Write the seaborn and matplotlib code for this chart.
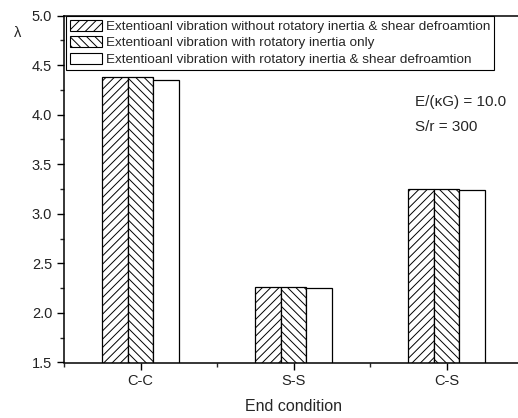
import matplotlib
matplotlib.use("Agg")
import matplotlib.pyplot as plt
import seaborn as sns
import pandas as pd
from matplotlib.patches import Patch
from matplotlib.ticker import MultipleLocator, FixedLocator

conditions = ["C-C", "S-S", "C-S"]
series_names = [
    "Extentioanl vibration without rotatory inertia & shear defroamtion",
    "Extentioanl vibration with rotatory inertia only",
    "Extentioanl vibration with rotatory inertia & shear defroamtion",
]
vals_without = [4.38, 2.26, 3.25]
vals_rot_only = [4.38, 2.26, 3.25]
vals_rot_shear = [4.35, 2.25, 3.24]
hatches = ["////", "\\\\\\\\", ""]

rows = []
for name, vals in zip(series_names, [vals_without, vals_rot_only, vals_rot_shear]):
    for c, v in zip(conditions, vals):
        rows.append({"cond": c, "series": name, "lam": v})
df = pd.DataFrame(rows)

sns.set_style("ticks")
plt.rcParams["font.family"] = ["Liberation Sans", "DejaVu Sans"]
plt.rcParams["hatch.linewidth"] = 0.7

fig = plt.figure(figsize=(5.18, 4.18), dpi=100)
ax = fig.add_axes([64 / 518, 1 - 362.5 / 418, (523 - 64) / 518, (362.5 - 15.5) / 418])

sns.barplot(data=df, x="cond", y="lam", hue="series", order=conditions,
            hue_order=series_names, palette=["white"] * 3, width=0.5,
            edgecolor="black", linewidth=0.9, errorbar=None, ax=ax, legend=False)

for cont, h in zip(ax.containers, hatches):
    for bar in cont:
        bar.set_hatch(h)
        bar.set_facecolor("white")
        bar.set_edgecolor("black")

ax.set_ylim(1.5, 5.0)
ax.set_xlim(-0.5, 2.5)
ax.yaxis.set_major_locator(MultipleLocator(0.5))
ax.yaxis.set_minor_locator(MultipleLocator(0.25))
ax.xaxis.set_minor_locator(FixedLocator([-0.5, 0.5, 1.5, 2.5]))
ax.tick_params(axis="both", which="major", direction="out", length=5, width=1,
               labelsize=10.5, color="black", labelcolor="#222222")
ax.tick_params(axis="both", which="minor", direction="out", length=3, width=1)
ax.tick_params(axis="x", which="major", pad=3)
for s in ["left", "bottom", "top", "right"]:
    ax.spines[s].set_visible(True)
    ax.spines[s].set_linewidth(1.1)
    ax.spines[s].set_color("black")

ax.set_xlabel("End condition", fontsize=11.5, labelpad=8)
ax.set_ylabel("")
fig.text(18 / 518, 1 - 33 / 418, "λ", fontsize=10.5, ha="center", va="center")

handles = [Patch(facecolor="white", edgecolor="black", hatch=h, linewidth=0.8) for h in hatches]
leg = ax.legend(handles, series_names, loc="upper left",
                bbox_to_anchor=(66 / 518, 1 - 15.5 / 418), bbox_transform=fig.transFigure,
                fontsize=9.7, frameon=True, fancybox=False, edgecolor="black",
                framealpha=1, handlelength=2.4, handleheight=0.9, labelspacing=0.25,
                handletextpad=0.25, borderpad=0.3, borderaxespad=0)
leg.get_frame().set_linewidth(0.8)

fig.text(415 / 518, 1 - 102 / 418, "E/(κG) = 10.0", fontsize=11, va="center")
fig.text(415 / 518, 1 - 127 / 418, "S/r = 300", fontsize=11, va="center")

fig.savefig("out.png", dpi=100)
